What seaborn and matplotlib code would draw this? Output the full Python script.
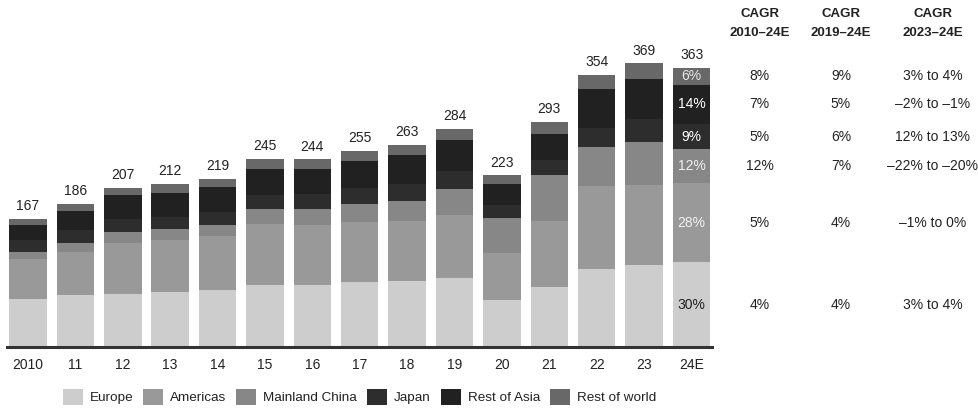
import matplotlib
matplotlib.use("Agg")
import matplotlib.pyplot as plt
from matplotlib.patches import Patch
from matplotlib.transforms import blended_transform_factory
import numpy as np
import pandas as pd
import seaborn as sns

# Sales by region, stacked per year (bottom to top)
years = ["2010", "11", "12", "13", "14", "15", "16", "17", "18", "19",
         "20", "21", "22", "23", "24E"]
regions = ["Europe", "Americas", "Mainland China", "Japan", "Rest of Asia", "Rest of world"]
europe = [62, 67, 69, 71, 74, 81, 81, 85, 86, 90, 61, 78, 101, 107, 110]
americas = [52, 56, 66, 68, 70, 79, 78, 78, 78, 82, 61, 86, 108, 104, 103]
mainland_china = [9, 12, 14, 14, 15, 19, 20, 23, 26, 33, 46, 59, 51, 56, 44]
japan = [16, 17, 17, 16, 17, 19, 20, 21, 22, 24, 17, 20, 25, 29, 33]
rest_of_asia = [20, 25, 31, 31, 32, 34, 33, 35, 38, 40, 27, 34, 50, 52, 51]
rest_of_world = [8, 9, 10, 12, 11, 13, 12, 13, 13, 15, 11, 16, 19, 21, 22]

# Growth table, one entry per region (same order as `regions`)
cagr_2010_24 = ["4%", "5%", "12%", "5%", "7%", "8%"]
cagr_2019_24 = ["4%", "4%", "7%", "6%", "5%", "9%"]
cagr_2023_24 = ["3% to 4%", "\u20131% to 0%", "\u201322% to \u201320%",
                "12% to 13%", "\u20132% to \u20131%", "3% to 4%"]
cagr_headers = ["2010\u201324E", "2019\u201324E", "2023\u201324E"]

colors = ["#cdcdcd", "#999999", "#878787", "#2d2d2d", "#212121", "#686868"]
pct_colors = ["#222222", "#f0f0f0", "#f0f0f0", "#ffffff", "#ffffff", "#e6e6e6"]

series = [europe, americas, mainland_china, japan, rest_of_asia, rest_of_world]
values = np.array(series, dtype=float)
cum = np.cumsum(values, axis=0)
totals = cum[-1]

sns.set_theme(style="white")
plt.rcParams["font.family"] = ["Liberation Sans", "DejaVu Sans"]

fig = plt.figure(figsize=(9.79, 4.08), dpi=100)
ax = fig.add_axes([0.0068, 0.1495, 0.7204, 0.754])

# Draw cumulative layers from the top down so each lower segment covers the one above
for i in range(len(regions) - 1, -1, -1):
    df = pd.DataFrame({"year": years, "value": cum[i]})
    sns.barplot(data=df, x="year", y="value", order=years, color=colors[i],
                saturation=1, width=0.79, errorbar=None, linewidth=0, ax=ax)

ax.set_xlim(-0.45, len(years) - 0.57)
ax.set_ylim(0, 400)
ax.set_xlabel("")
ax.set_ylabel("")
ax.set_yticks([])
for s in ["top", "left", "right"]:
    ax.spines[s].set_visible(False)
ax.spines["bottom"].set_color("#333333")
ax.spines["bottom"].set_linewidth(2.2)
ax.tick_params(axis="x", length=0, pad=8, labelsize=10, labelcolor="#222222")

# Totals above bars
for xi, t in enumerate(totals):
    ax.annotate(f"{t:.0f}", (xi, t), xytext=(0, 4), textcoords="offset points",
                ha="center", va="bottom", fontsize=10, color="#222222")

# Share labels inside the last bar
last = len(years) - 1
mids = cum[:, last] - values[:, last] / 2
for i in range(len(regions)):
    share = values[i, last] / totals[last] * 100
    ax.text(last, mids[i], f"{share:.0f}%", ha="center", va="center",
            fontsize=10, color=pct_colors[i])

# Growth table to the right, rows aligned with the last bar's segments
trans = blended_transform_factory(fig.transFigure, ax.transData)
col_x = [0.776, 0.859, 0.953]
for cx, head, col in zip(col_x, cagr_headers,
                         [cagr_2010_24, cagr_2019_24, cagr_2023_24]):
    fig.text(cx, 0.966, "CAGR", ha="center", va="center", fontsize=9.5,
             fontweight="bold", color="#222222")
    fig.text(cx, 0.919, head, ha="center", va="center", fontsize=9.5,
             fontweight="bold", color="#222222")
    for i in range(len(regions)):
        ax.text(cx, mids[i], col[i], transform=trans, ha="center", va="center",
                fontsize=10, color="#222222", clip_on=False)

handles = [Patch(facecolor=c, edgecolor="none", label=r) for r, c in zip(regions, colors)]
fig.legend(handles=handles, loc="center", bbox_to_anchor=(0.367, 0.027),
           ncol=6, frameon=False, fontsize=9.7, handlelength=1.48, handleheight=1.42,
           handletextpad=0.52, columnspacing=0.74, borderpad=0, borderaxespad=0,
           labelcolor="#222222")

fig.savefig("out.png", dpi=100)
